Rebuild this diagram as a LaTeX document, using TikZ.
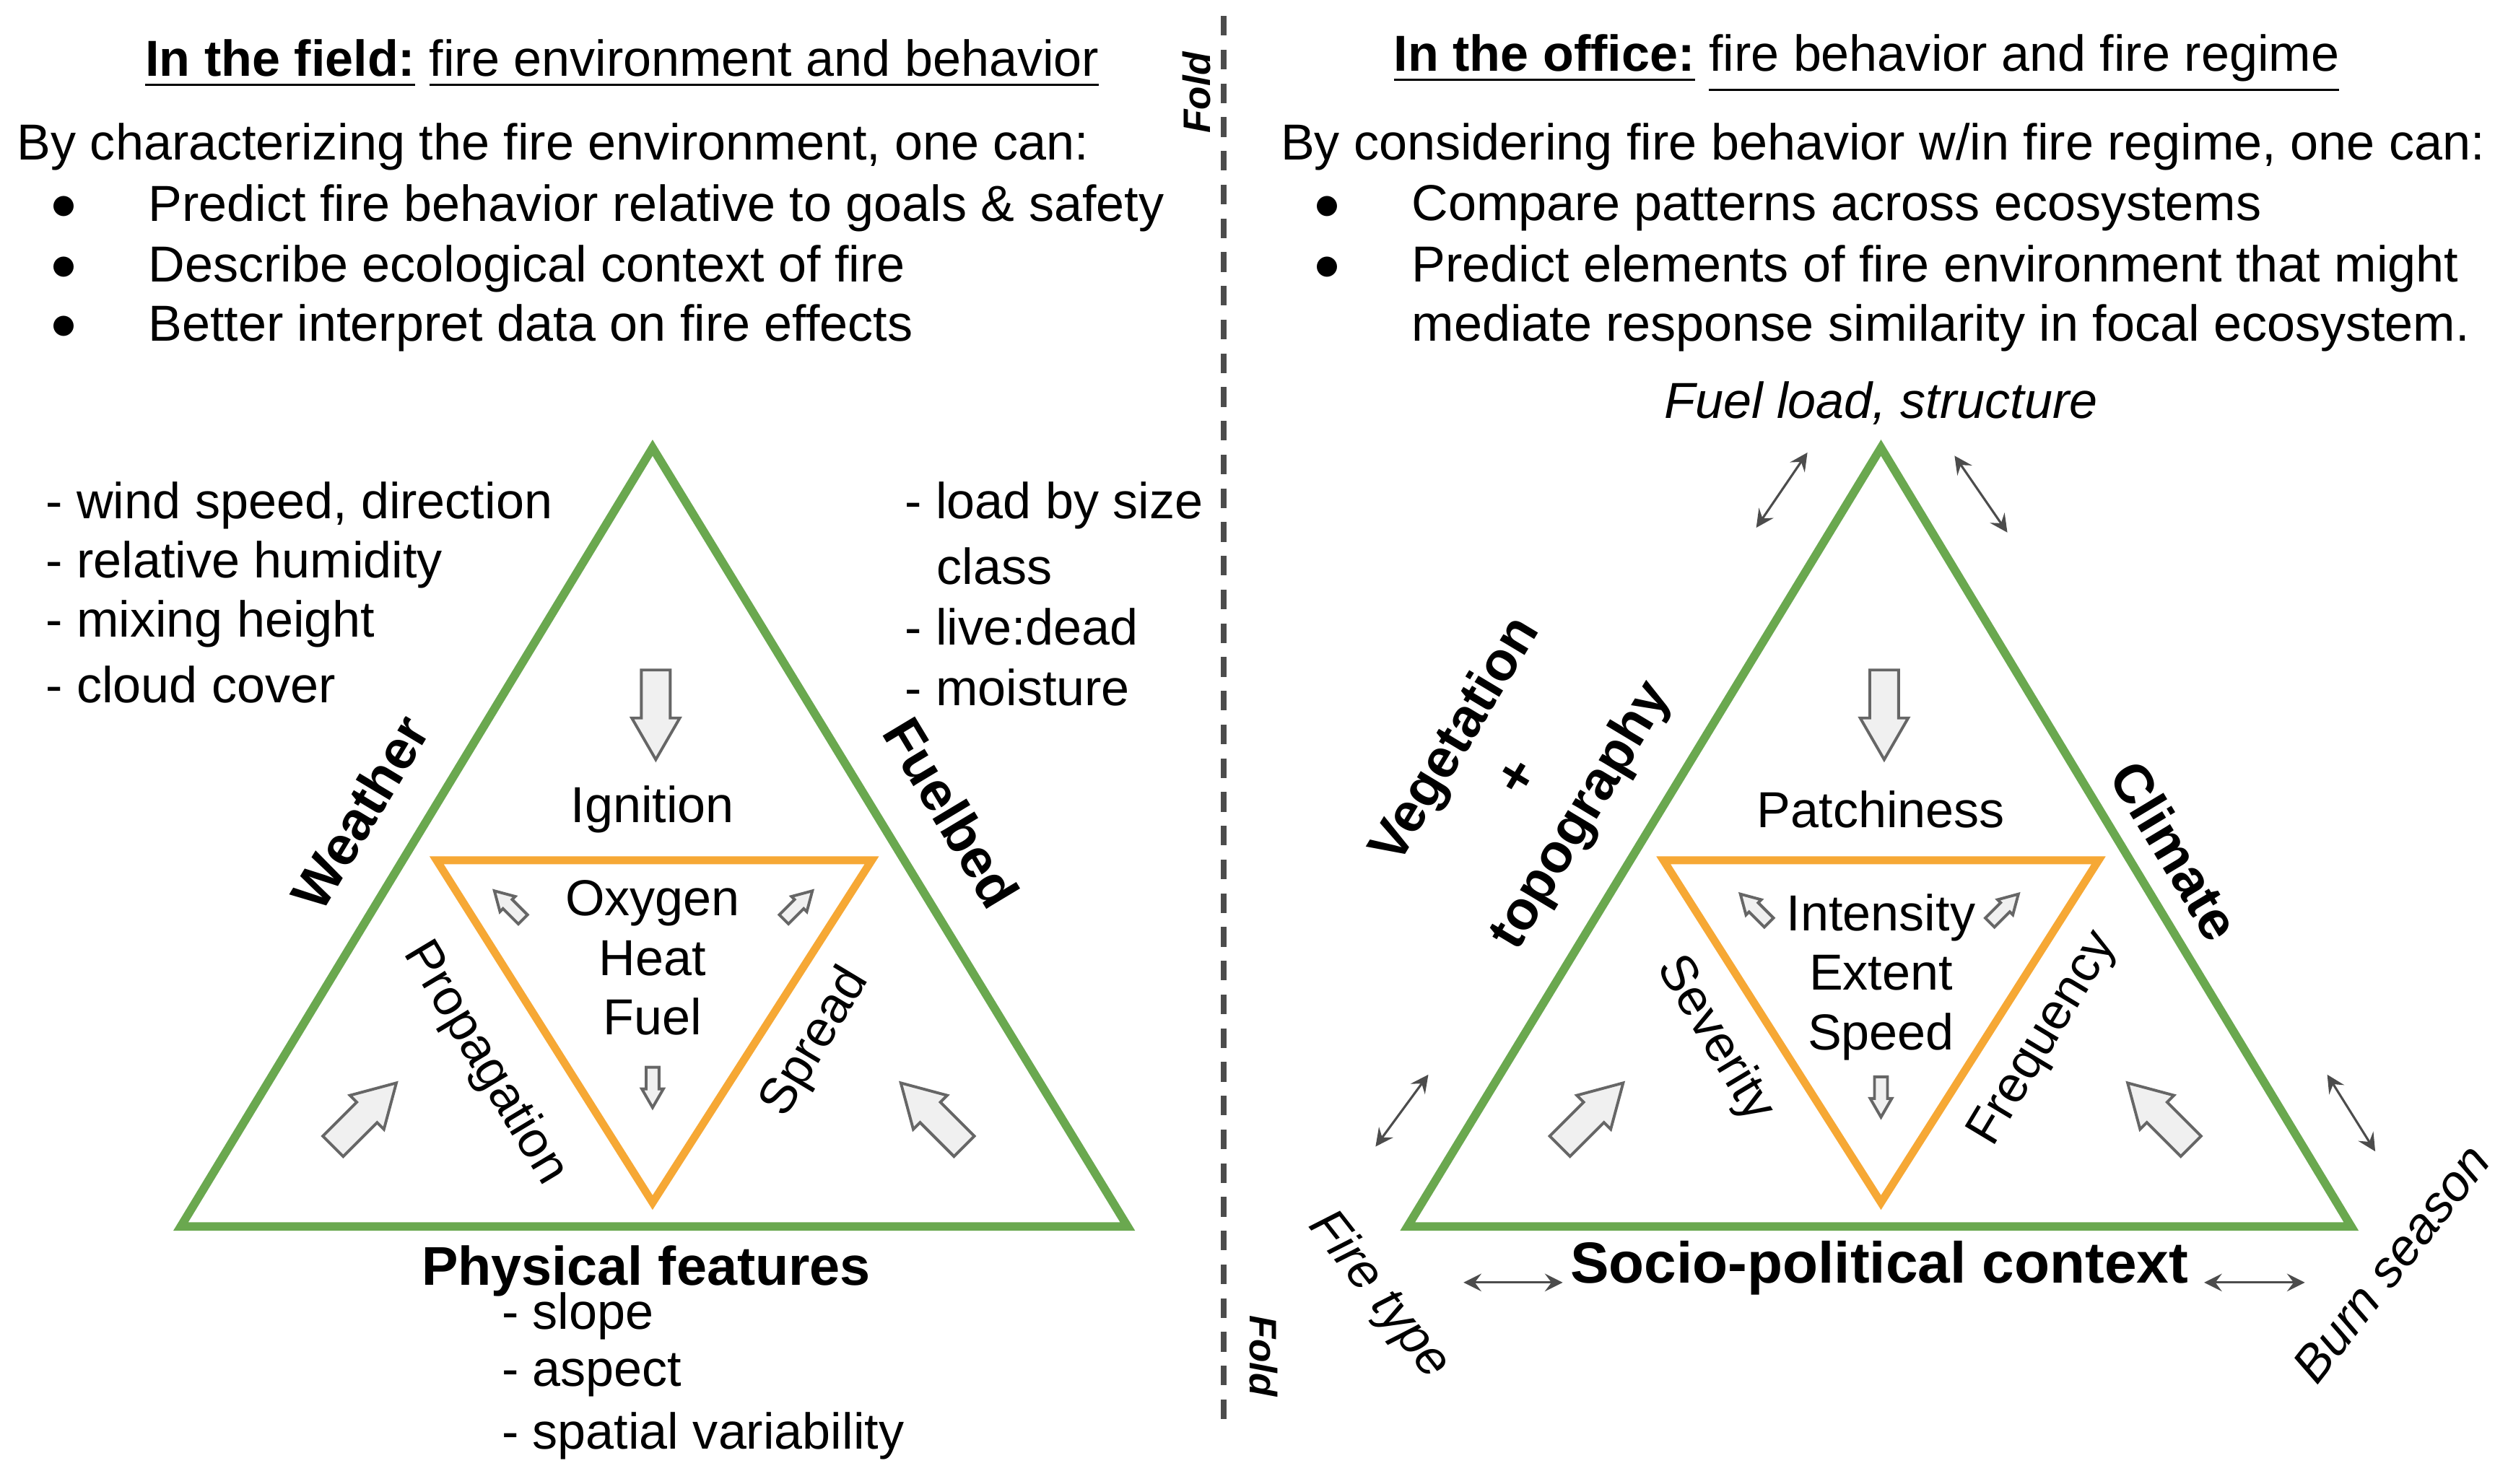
\documentclass[tikz,border=0pt]{standalone}
\usepackage{fontspec}
\setmainfont{Liberation Sans}
\begin{document}
\begin{tikzpicture}[x=0.01cm,y=-0.01cm,
  txt/.style={inner sep=0pt,font=\fontsize{9}{10.5}\selectfont},
  lt/.style={txt,anchor=west},
  bl/.style={txt,font=\fontsize{9.7}{11}\selectfont\bfseries},
  it/.style={txt,font=\fontsize{9}{10.5}\selectfont\itshape},
  barrow/.style={draw=black!60,fill=black!6,line width=0.5pt,line join=miter},
  dbl/.style={<->,>=stealth,draw=black!70,line width=0.4pt}]
\definecolor{gr}{RGB}{106,168,79}
\definecolor{or}{RGB}{246,168,53}
\tikzset{green/.style={draw=gr,line width=1.5pt},orange/.style={draw=or,line width=1.4pt}}
\newcommand\blockarr[4]{\draw[barrow,shift={(#1,#2)},rotate=#3,scale=#4]
 (-28,-9)--(2,-9)--(2,-15)--(28,0)--(2,15)--(2,9)--(-28,9)--cycle;}
\useasboundingbox (0,0) rectangle (1568,928);
% dashed fold line
\draw[line width=1pt,black!70,dash pattern=on 3.5pt off 2.5pt] (765,10)--(765,892);
\node[txt,font=\fontsize{6.8}{7}\selectfont\bfseries\itshape,rotate=90] at (748,58) {Fold};
\node[txt,font=\fontsize{6.8}{7}\selectfont\bfseries\itshape,rotate=-90] at (790,848) {Fold};
% ===== left =====
\node[txt] at (389,40) {\underline{\textbf{In the field:}} \underline{fire environment and behavior}};
\node[lt] at (10,92) {By characterizing the fire environment, one can:};
\foreach \y/\t in {130/Predict fire behavior relative to goals \& safety,168/Describe ecological context of fire,205/Better interpret data on fire effects}{
 \node[txt] at (40,\y) {$\bullet$}; \node[lt] at (92,\y) {\t};}
\draw[green] (408,280)--(113,767)--(705,767)--cycle;
\draw[orange] (273,538)--(545,538)--(408,752)--cycle;
\node[lt] at (28,316) {- wind speed, direction};
\node[lt] at (28,353) {- relative humidity};
\node[lt] at (28,390) {- mixing height};
\node[lt] at (28,428) {- cloud cover};
\node[lt] at (565,316) {- load by size};
\node[lt] at (585,354) {class};
\node[lt] at (565,392) {- live:dead};
\node[lt] at (565,430) {- moisture};
\node[bl,rotate=59] at (225,508) {Weather};
\node[bl,rotate=-59] at (595,508) {Fuelbed};
\node[bl] at (404,795) {Physical features};
\node[lt] at (313,823) {- slope};
\node[lt] at (313,860) {- aspect};
\node[lt] at (313,898) {- spatial variability};
\node[txt] at (408,506) {Ignition};
\node[txt,align=center,font=\fontsize{9}{10.6}\selectfont] at (408,599) {Oxygen\\Heat\\Fuel};
\node[txt,rotate=-59] at (303,665) {Propagation};
\node[txt,rotate=59] at (510,652) {Spread};
\blockarr{410}{447}{-90}{1}
\blockarr{228}{697}{45}{1}
\blockarr{583}{697}{135}{1}
\blockarr{318}{566}{135}{0.45}
\blockarr{499}{566}{45}{0.45}
\blockarr{408}{680}{-90}{0.45}
% ===== right =====
\node[txt] at (1167,40) {\underline{\textbf{In the office:}} \underline{fire behavior and fire regime}};
\node[lt] at (800,92) {By considering fire behavior w/in fire regime, one can:};
\node[txt] at (830,130) {$\bullet$}; \node[lt] at (882,130) {Compare patterns across ecosystems};
\node[txt] at (830,168) {$\bullet$}; \node[lt] at (882,168) {Predict elements of fire environment that might};
\node[lt] at (882,205) {mediate response similarity in focal ecosystem.};
\draw[green] (1176,280)--(880,767)--(1470,767)--cycle;
\draw[orange] (1040,538)--(1312,538)--(1176,752)--cycle;
\node[it] at (1176,252) {Fuel load, structure};
\node[bl,rotate=59,align=center,font=\fontsize{9.7}{13}\selectfont\bfseries] at (950,487) {Vegetation\\+\\topography};
\node[bl,rotate=-59] at (1360,532) {Climate};
\node[bl,font=\fontsize{10.3}{11}\selectfont\bfseries] at (1175,793) {Socio-political context};
\node[txt] at (1176,506) {Patchiness};
\node[txt,align=center,font=\fontsize{9}{10.6}\selectfont] at (1176,611) {Intensity\\Extent\\Speed};
\node[txt,rotate=-59] at (1072,650) {Severity};
\node[txt,rotate=59] at (1278,650) {Frequency};
\node[it,rotate=-52] at (862,810) {Fire type};
\node[it,rotate=52] at (1495,790) {Burn season};
\draw[dbl] (1098,330)--(1130,283);
\draw[dbl] (1222,285)--(1255,333);
\draw[dbl] (860,717)--(893,672);
\draw[dbl] (1455,672)--(1485,720);
\draw[dbl] (915,802)--(977,802);
\draw[dbl] (1378,802)--(1441,802);
\blockarr{1178}{447}{-90}{1}
\blockarr{995}{697}{45}{1}
\blockarr{1350}{697}{135}{1}
\blockarr{1097}{568}{135}{0.45}
\blockarr{1253}{568}{45}{0.45}
\blockarr{1176}{686}{-90}{0.45}
\end{tikzpicture}
\end{document}
